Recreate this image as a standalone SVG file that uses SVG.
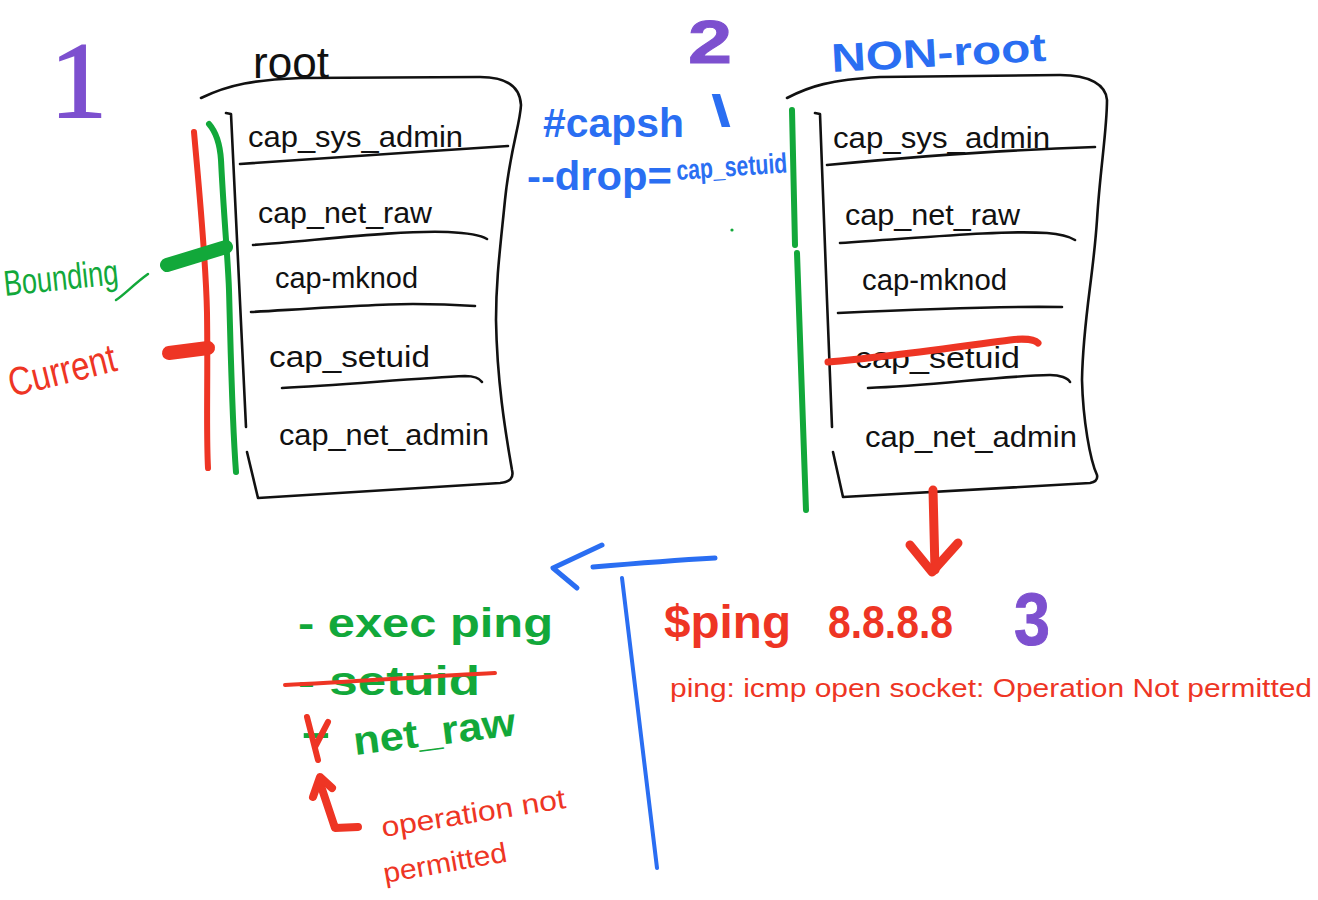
<svg xmlns="http://www.w3.org/2000/svg" width="1318" height="900" viewBox="0 0 1318 900">
<style>
.ink{fill:none;stroke:#111;stroke-width:2.6;stroke-linecap:round;stroke-linejoin:round}
.cap{font-family:"Liberation Sans",Arial,sans-serif;font-size:30px;fill:#111}
.red{fill:none;stroke:#ee3524;stroke-linecap:round;stroke-linejoin:round}
.grn{fill:none;stroke:#12a83a;stroke-linecap:round;stroke-linejoin:round}
.blu{fill:none;stroke:#2a6ef2;stroke-linecap:round;stroke-linejoin:round}
.tr{font-family:"Liberation Sans",Arial,sans-serif;fill:#ee3524}
.tg{font-family:"Liberation Sans",Arial,sans-serif;fill:#12a83a;font-weight:bold}
.tb{font-family:"Liberation Sans",Arial,sans-serif;fill:#2a6ef2;font-weight:bold}
.tp{fill:#7d50cf;stroke:#7d50cf}
</style>
<rect width="1318" height="900" fill="#fff"/>

<g id="step-numbers">
<text class="tp" x="50" y="117" font-family="Liberation Serif,serif" font-size="108" stroke-width="2" textLength="57" lengthAdjust="spacingAndGlyphs">1</text>
<text class="tp" x="688" y="63" font-family="Liberation Sans,sans-serif" font-weight="bold" font-size="62" stroke-width="1" textLength="44" lengthAdjust="spacingAndGlyphs">2</text>
<text class="tp" x="1014" y="645" font-family="Liberation Sans,sans-serif" font-weight="bold" font-size="74" stroke-width="1" textLength="36" lengthAdjust="spacingAndGlyphs">3</text>
</g>

<g id="root-box">
<text x="253" y="78" font-family="Liberation Sans,sans-serif" font-size="44" fill="#111" textLength="76" lengthAdjust="spacingAndGlyphs">root</text>
<path class="ink" d="M201,98 C230,84 255,80 300,78 L480,77 C505,77 520,85 521,105 C520,125 510,150 505,200 C500,250 496,280 496,320 C497,380 505,430 512,470 C514,478 510,482 500,483 L258,498 L247,452"/>
<path class="ink" d="M226,113 L231,114 L246,427"/>
<path class="ink" d="M240,164 C320,158 420,152 508,146"/>
<path class="ink" d="M253,245 C320,240 400,230 448,232 C470,233 482,236 487,239"/>
<path class="ink" d="M251,312 C320,308 380,304 413,304 C440,304 460,305 475,306"/>
<path class="ink" d="M282,388 C340,385 420,378 465,376 C475,376 480,379 482,382"/>
<text class="cap" x="248" y="147" textLength="215" lengthAdjust="spacingAndGlyphs">cap_sys_admin</text>
<text class="cap" x="258" y="223" textLength="174" lengthAdjust="spacingAndGlyphs">cap_net_raw</text>
<text class="cap" x="275" y="288" textLength="143" lengthAdjust="spacingAndGlyphs">cap-mknod</text>
<text class="cap" x="269" y="367" textLength="161" lengthAdjust="spacingAndGlyphs">cap_setuid</text>
<text class="cap" x="279" y="445" textLength="210" lengthAdjust="spacingAndGlyphs">cap_net_admin</text>
</g>

<g id="sets-legend">
<path class="red" stroke-width="6" d="M194,132 C200,200 206,260 207,313 C208,380 206,430 208,468"/>
<path class="grn" stroke-width="6" d="M209,124 C216,132 220,145 221,160 C224,220 228,260 229,290 C231,360 232,420 236,472"/>
<path class="grn" stroke-width="14" d="M167,265 L226,247"/>
<path class="red" stroke-width="14" d="M169,353 L208,348"/>
<text x="5" y="296" font-family="Liberation Sans,sans-serif" font-size="36" fill="#12a83a" textLength="115" lengthAdjust="spacingAndGlyphs" transform="rotate(-6 5 296)">Bounding</text>
<path class="grn" stroke-width="2.5" d="M116,300 C124,295 134,284 148,274"/>
<text class="tr" x="12" y="397" font-size="40" textLength="110" lengthAdjust="spacingAndGlyphs" transform="rotate(-14 12 397)">Current</text>
</g>

<g id="capsh-command">
<text class="tb" x="543" y="137" font-size="40" textLength="141" lengthAdjust="spacingAndGlyphs">#capsh</text>
<text class="tb" x="711" y="126" font-size="44" textLength="20" lengthAdjust="spacingAndGlyphs">\</text>
<text class="tb" x="527" y="190" font-size="40" textLength="145" lengthAdjust="spacingAndGlyphs">--drop=</text>
<text class="tb" x="677" y="180" font-size="28" textLength="111" lengthAdjust="spacingAndGlyphs" transform="rotate(-4 677 180)">cap_setuid</text>
<circle cx="732" cy="230" r="1.6" fill="#12a83a"/>
</g>

<g id="nonroot-box">
<text class="tb" x="832" y="72" font-size="40" textLength="215" lengthAdjust="spacingAndGlyphs" transform="rotate(-3 832 72)">NON-root</text>
<path class="ink" d="M787,98 C810,86 830,80 880,77 L1060,75 C1090,75 1106,85 1107,100 C1107,130 1100,170 1097,220 C1093,280 1083,320 1082,380 C1083,420 1090,460 1097,475 C1098,480 1095,482 1090,483 L843,497 L833,452"/>
<path class="ink" d="M815,113 L820,114 L827,300 L832,427"/>
<path class="ink" d="M827,165 C900,158 1000,150 1095,147"/>
<path class="ink" d="M840,243 C920,238 1000,230 1047,233 C1060,234 1070,237 1075,240"/>
<path class="ink" d="M838,313 C900,310 1000,306 1062,307"/>
<path class="ink" d="M868,388 C930,386 1000,376 1050,375 C1060,375 1068,378 1070,382"/>
<text class="cap" x="833" y="148" textLength="217" lengthAdjust="spacingAndGlyphs">cap_sys_admin</text>
<text class="cap" x="845" y="225" textLength="175" lengthAdjust="spacingAndGlyphs">cap_net_raw</text>
<text class="cap" x="862" y="290" textLength="145" lengthAdjust="spacingAndGlyphs">cap-mknod</text>
<text class="cap" x="855" y="368" textLength="165" lengthAdjust="spacingAndGlyphs">cap_setuid</text>
<text class="cap" x="865" y="447" textLength="212" lengthAdjust="spacingAndGlyphs">cap_net_admin</text>
<path class="red" stroke-width="7" d="M828,362 C880,358 950,348 1010,340 C1025,338 1035,340 1038,343"/>
<path class="grn" stroke-width="6" d="M792,110 L795,245"/>
<path class="grn" stroke-width="6" d="M797,253 C800,330 803,420 806,510"/>
</g>

<g id="ping-command">
<text class="tr" x="664" y="638" font-size="46" font-weight="bold" textLength="127" lengthAdjust="spacingAndGlyphs">$ping</text>
<text class="tr" x="828" y="638" font-size="46" font-weight="bold" textLength="125" lengthAdjust="spacingAndGlyphs">8.8.8.8</text>
<text class="tr" x="670" y="697" font-size="26" textLength="642" lengthAdjust="spacingAndGlyphs">ping: icmp open socket: Operation Not permitted</text>
</g>

<g id="exec-steps">
<text class="tg" x="298" y="637" font-size="40" textLength="255" lengthAdjust="spacingAndGlyphs">- exec ping</text>
<text class="tg" x="298" y="695" font-size="40" textLength="182" lengthAdjust="spacingAndGlyphs">- setuid</text>
<path class="red" stroke-width="4" d="M285,685 C350,682 430,676 495,673"/>
<text class="tg" x="300" y="746" font-size="40" textLength="32" lengthAdjust="spacingAndGlyphs">-</text>
<text class="tg" x="355" y="755" font-size="40" textLength="163" lengthAdjust="spacingAndGlyphs" transform="rotate(-7 355 755)">net_raw</text>
<path class="red" stroke-width="6" d="M307,717 L318,760 M328,722 L315,747"/>
<text class="tr" x="383" y="837" font-size="28" textLength="186" lengthAdjust="spacingAndGlyphs" transform="rotate(-9 383 837)">operation not</text>
<text class="tr" x="385" y="883" font-size="28" textLength="125" lengthAdjust="spacingAndGlyphs" transform="rotate(-10 385 883)">permitted</text>
</g>

<g id="connectors">
<path class="red" stroke-width="9" d="M933,490 L935,570"/>
<path class="red" stroke-width="9" d="M910,545 L932,572 L958,543"/>
<path class="red" stroke-width="8" d="M358,827 L335,828 L320,783"/>
<path class="red" stroke-width="8" d="M313,797 L320,777 L332,788"/>
<path class="blu" stroke-width="5" d="M602,545 L553,568 L577,588"/>
<path class="blu" stroke-width="5" d="M593,567 C640,563 680,560 715,558"/>
<path class="blu" stroke-width="4" d="M622,578 L657,868"/>
</g>
</svg>
